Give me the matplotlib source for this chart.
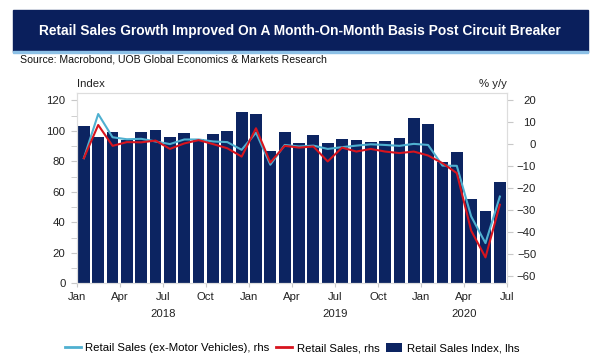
import matplotlib
matplotlib.use("Agg")
import matplotlib.pyplot as plt
from matplotlib.lines import Line2D
from matplotlib.patches import Patch, Rectangle
import numpy as np

plt.rcParams['font.family'] = ['Liberation Sans', 'DejaVu Sans']

# monthly data, Jan 2018 - Jun 2020
index_lhs = [103.0, 96.0, 99.5, 93.8, 99.3, 100.6, 96.2, 98.4, 94.5, 97.9, 99.7, 112.1,
             111.0, 86.8, 98.9, 92.3, 97.5, 91.9, 94.7, 94.0, 92.5, 93.6, 95.3, 108.2,
             104.5, 79.6, 86.0, 55.4, 47.1, 66.5]
ex_motor_rhs = [-6.5, 13.6, 3.0, 2.1, 2.3, 1.1, -0.1, 2.0, 2.0, 1.1, 0.8, -2.7,
                5.1, -9.5, -0.5, -1.2, -0.8, -2.3, -1.5, -0.8, -0.2, -0.5, -0.9, 0.0,
                -0.5, -9.9, -10.0, -33.0, -45.2, -24.0]
retail_rhs = [-6.5, 8.6, -0.9, 0.8, 0.7, 1.5, -2.3, 0.2, 1.7, -0.1, -2.0, -5.8,
              7.1, -8.5, -0.9, -1.7, -1.2, -8.0, -1.7, -3.5, -2.3, -3.5, -4.2, -3.5,
              -5.3, -8.8, -13.3, -39.5, -51.7, -27.7]
month_labels = ['Jan', 'Apr', 'Jul', 'Oct'] * 2 + ['Jan', 'Apr', 'Jul']
year_labels = ['2018', '2019', '2020']

NAVY = '#0c2461'
LIGHT_BLUE = '#4fb0d0'
RED = '#d7141e'
GRID = '#c8c8c8'

fig = plt.figure(figsize=(6, 3.6), dpi=100)

# title banner
fig.patches.append(Rectangle((13 / 600, 1 - 52 / 360), 575 / 600, 42 / 360,
                             transform=fig.transFigure, color='#0a1f5c', zorder=0))
fig.patches.append(Rectangle((13 / 600, 1 - 53 / 360), 575 / 600, 2.5 / 360,
                             transform=fig.transFigure, color='#8cc0e6', zorder=1))
fig.text(0.5, 1 - 31 / 360, 'Retail Sales Growth Improved On A Month-On-Month Basis Post Circuit Breaker',
         color='white', fontsize=9.9, fontweight='bold', ha='center', va='center')
fig.text(20 / 600, 1 - 59 / 360, 'Source: Macrobond, UOB Global Economics & Markets Research',
         fontsize=7.6, ha='left', va='center', color='#111111')

ax = fig.add_axes([76.7 / 600, 1 - 283.3 / 360, 430.3 / 600, 190.6 / 360])
x = np.arange(len(index_lhs)) + 0.5
ax.bar(x, index_lhs, width=0.82, color=NAVY, zorder=2)
ax.set_xlim(0, 30)
ax.set_ylim(0, 125)
ax.set_yticks(np.arange(0, 121, 20))
ax.set_yticks(np.arange(10, 121, 20), minor=True)
ax.set_xticks(np.arange(0, 31, 3))
ax.set_xticklabels(month_labels)
ax.tick_params(axis='y', which='both', length=4, color=GRID, labelsize=8.2, pad=4, labelcolor='#222222')
ax.tick_params(axis='x', length=3, color=GRID, labelsize=8.2, pad=3, labelcolor='#222222')
for pos, yr in zip([6, 18, 27], year_labels):
    ax.text(pos, -0.16, yr, transform=ax.get_xaxis_transform(), ha='center', va='center',
            fontsize=8.2, color='#222222')
for s in ax.spines.values():
    s.set_color('#dddddd')
    s.set_linewidth(0.8)
ax.text(0, 1.045, 'Index', transform=ax.transAxes, ha='left', va='center', fontsize=8.2, color='#222222')

ax2 = ax.twinx()
ax2.plot(x, ex_motor_rhs, color=LIGHT_BLUE, lw=1.5, zorder=3)
ax2.plot(x, retail_rhs, color=RED, lw=1.5, zorder=4)
ax2.set_ylim(-63.5, 23.3)
ax2.set_yticks(np.arange(-60, 21, 10))
ax2.tick_params(axis='y', length=4, color=GRID, labelsize=8.2, pad=17, labelcolor='#222222')
for lbl in ax2.get_yticklabels():
    lbl.set_horizontalalignment('right')
for s in ax2.spines.values():
    s.set_color('#dddddd')
    s.set_linewidth(0.8)
ax2.text(1, 1.045, '% y/y', transform=ax2.transAxes, ha='right', va='center', fontsize=8.2, color='#222222')

handles = [Line2D([], [], color=LIGHT_BLUE, lw=2),
           Line2D([], [], color=RED, lw=2),
           Patch(facecolor=NAVY)]
labels = ['Retail Sales (ex-Motor Vehicles), rhs', 'Retail Sales, rhs', 'Retail Sales Index, lhs']
fig.legend(handles, labels, loc='center', bbox_to_anchor=(292 / 600, 1 - 348 / 360), ncol=3,
           frameon=False, fontsize=8.2, handlelength=1.4, handletextpad=0.4, columnspacing=0.6,
           handleheight=0.9)

fig.savefig('out.png', dpi=100)
